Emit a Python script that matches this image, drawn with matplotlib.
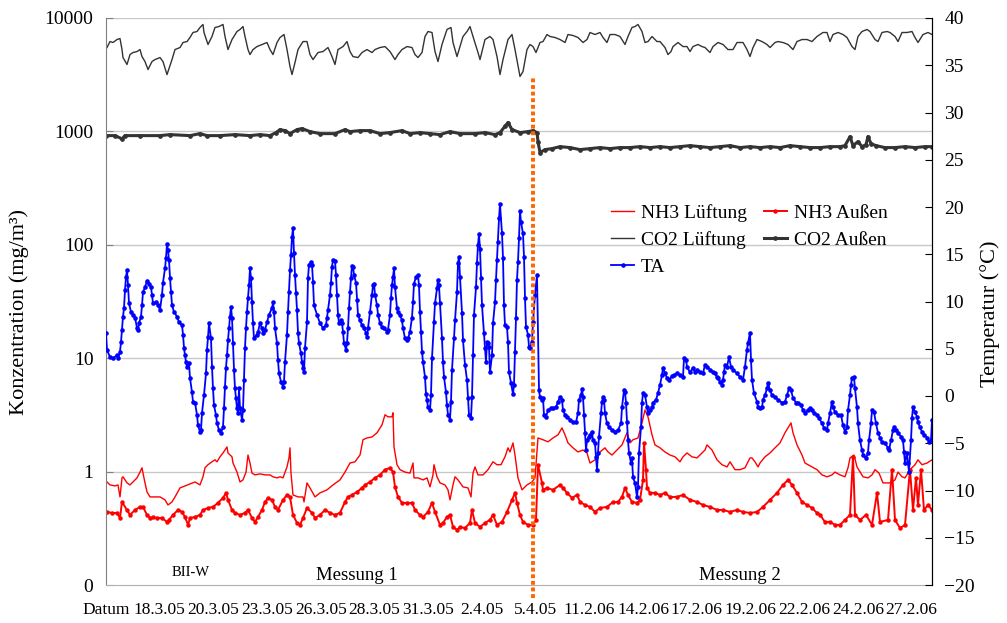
import matplotlib.pyplot as plt
import numpy as np
from matplotlib.ticker import FixedLocator, NullLocator, MultipleLocator

plt.rcParams['font.family'] = ['Liberation Serif', 'DejaVu Serif']

# category axis: one label every ~54 measuring points
x_labels = ["Datum", "18.3.05", "20.3.05", "23.3.05", "26.3.05", "28.3.05", "31.3.05", "2.4.05",
            "5.4.05", "11.2.06", "14.2.06", "17.2.06", "19.2.06", "22.2.06", "24.2.06", "27.2.06"]
n_points = 826
split_idx = 427

# TA (air temperature, degC) -- measuring point index, value
ta_idx = [0, 1, 4, 7, 11, 12, 14, 15, 16, 17, 18, 19, 20, 21, 22, 23, 25, 27, 29, 31, 32, 33, 35, 36, 37,
          39, 41, 43, 45, 46, 47, 50, 52, 54, 56, 57, 59, 60, 61, 62, 63, 64, 65, 66, 68, 71, 73, 76, 77,
          78, 79, 80, 81, 83, 84, 86, 87, 89, 91, 92, 94, 95, 96, 98, 100, 101, 102, 103, 105, 106, 107,
          108, 110, 111, 113, 115, 117, 118, 119, 120, 121, 122, 123, 124, 125, 126, 127, 128, 129, 130,
          131, 132, 133, 134, 136, 137, 138, 139, 140, 141, 142, 143, 144, 145, 146, 147, 148, 151, 152,
          154, 156, 157, 159, 161, 163, 166, 167, 168, 169, 171, 172, 173, 175, 177, 178, 179, 181, 182,
          183, 184, 185, 186, 187, 188, 189, 190, 191, 192, 193, 195, 196, 197, 198, 199, 201, 202, 203,
          205, 206, 207, 208, 211, 214, 217, 220, 221, 222, 224, 225, 226, 227, 229, 230, 231, 232, 233,
          235, 236, 237, 238, 240, 241, 242, 243, 244, 245, 246, 247, 248, 250, 251, 252, 254, 256, 258,
          260, 261, 262, 264, 266, 267, 268, 269, 271, 272, 274, 276, 278, 281, 282, 284, 285, 286, 287,
          288, 289, 291, 292, 294, 296, 297, 299, 301, 302, 304, 306, 307, 308, 310, 312, 313, 314, 315,
          316, 317, 319, 320, 321, 322, 324, 325, 326, 328, 329, 331, 332, 333, 334, 336, 337, 338, 340,
          341, 342, 344, 345, 346, 348, 349, 351, 352, 353, 354, 356, 357, 359, 361, 362, 363, 365, 366,
          367, 368, 370, 371, 372, 373, 374, 375, 376, 378, 379, 380, 381, 382, 383, 384, 386, 387, 389,
          390, 391, 392, 393, 394, 396, 397, 398, 399, 401, 402, 403, 405, 407, 408, 409, 410, 411, 412,
          413, 414, 415, 417, 418, 419, 420, 422, 423, 424, 426, 427, 429, 431,
          433, 434, 436, 437, 438, 440, 442, 445, 447, 450, 452, 454, 456, 457, 459, 461, 464, 467, 470,
          472, 473, 475, 476, 477, 478, 479, 480, 481, 483, 484, 486, 487, 489, 490, 491, 492, 493, 495,
          496, 497, 498, 499, 501, 503, 506, 509, 512, 515, 516, 518, 519, 520, 521, 522, 523, 525, 526,
          527, 529, 531, 532, 533, 535, 536, 537, 539, 541, 542, 544, 546, 547, 550, 552, 554, 556, 557,
          559, 561, 563, 566, 568, 571, 574, 577, 578, 580, 581, 584, 587, 589, 591, 594, 597, 599, 601,
          604, 607, 609, 611, 612, 614, 616, 617, 618, 619, 621, 623, 625, 627, 631, 634, 637, 639, 641,
          642, 644, 645, 646, 648, 651, 652, 654, 656, 657, 659, 661, 662, 664, 666, 669, 672, 676, 679,
          681, 683, 685, 687, 690, 692, 695, 697, 699, 702, 704, 706, 708, 711, 713, 716, 718, 721, 722,
          724, 726, 727, 729, 732, 735, 737, 739, 741, 742, 744, 745, 746, 748, 749, 751, 752, 754, 756,
          757, 760, 762, 763, 765, 766, 768, 770, 772, 774, 776, 779, 782, 783, 785, 787, 788, 790, 792,
          795, 797, 798, 799, 801, 802, 803, 805, 806, 807, 809, 811, 812, 814, 816, 818, 821, 823, 825, 826]
ta_val = [6.7, 4.9, 4.1, 4.0, 4.3, 4.0, 4.7, 5.7, 7.0, 8.4, 9.3, 11.2, 12.6, 13.3, 11.7, 9.8, 8.9, 8.6, 8.3,
          7.2, 7.0, 7.7, 8.4, 9.6, 11.0, 11.5, 12.2, 11.9, 11.5, 10.7, 9.8, 9.9, 9.6, 9.1, 10.7, 12.0, 13.5,
          14.6, 16.1, 15.4, 14.4, 12.5, 11.0, 9.6, 8.9, 8.4, 7.8, 7.5, 6.5, 5.1, 4.3, 3.6, 3.1, 3.5, 1.9,
          0.4, -0.6, -0.7, -2.0, -3.1, -3.8, -3.6, -1.8, 0.1, 2.4, 4.9, 6.2, 7.7, 6.1, 3.1, 0.8, -1.0, -2.0,
          -2.9, -3.6, -3.9, -3.3, -1.3, 1.0, 3.0, 4.3, 5.9, 7.2, 8.4, 9.4, 8.3, 5.6, 2.8, 0.8, -0.2, -1.3,
          -1.8, 0.8, -1.3, -2.5, -1.5, 1.7, 5.1, 7.2, 8.9, 10.4, 11.7, 13.5, 12.5, 9.9, 7.7, 6.1, 6.5, 6.8,
          7.7, 7.2, 6.7, 7.0, 7.8, 8.6, 9.3, 9.9, 8.9, 7.2, 5.6, 3.8, 2.4, 1.5, 1.0, 1.5, 3.6, 6.5, 8.9,
          11.0, 13.3, 14.9, 16.8, 17.8, 15.1, 12.8, 10.9, 9.1, 6.7, 5.6, 4.5, 3.6, 3.0, 2.5, 5.1, 7.8,
          12.5, 13.9, 14.2, 13.9, 12.1, 9.6, 8.6, 7.7, 7.2, 7.5, 8.3, 9.1, 10.7, 12.0, 13.7, 14.4, 14.3,
          12.8, 10.7, 8.6, 7.7, 8.0, 7.7, 6.8, 5.6, 4.9, 5.6, 7.2, 9.3, 11.0, 12.5, 13.8, 13.7, 12.8, 12.0,
          10.2, 8.6, 8.0, 7.5, 7.2, 6.7, 6.2, 7.2, 8.9, 10.7, 11.7, 11.9, 10.7, 9.6, 8.6, 7.7, 7.3, 7.2,
          6.8, 7.0, 8.6, 10.4, 11.7, 12.6, 13.5, 11.5, 9.3, 8.9, 8.6, 8.0, 7.2, 6.1, 5.9, 6.1, 6.8, 8.3,
          9.9, 11.9, 12.6, 12.8, 11.7, 8.9, 6.8, 4.7, 3.6, 2.0, 0.2, -0.4, -1.2, -1.5, 0.1, 4.0, 7.8, 9.8,
          11.4, 12.3, 11.7, 9.8, 6.1, 3.6, 2.0, 0.4, -1.0, -2.0, -2.5, -0.6, 2.8, 6.1, 8.0, 11.0, 14.1,
          14.7, 12.6, 8.8, 5.9, 3.3, 1.7, -0.2, -2.0, -2.3, -0.1, 4.3, 8.6, 11.5, 14.1, 16.0, 17.1, 15.6,
          12.5, 9.6, 6.7, 5.1, 3.6, 5.7, 5.6, 5.2, 2.5, 4.3, 7.7, 9.9, 12.3, 14.4, 16.3, 18.8, 20.3, 17.2,
          14.6, 9.6, 7.5, 7.3, 5.7, 2.5, 1.4, 0.2, 1.2, 4.7, 8.3, 12.3, 14.2, 16.7, 19.6, 18.4, 17.2, 14.7,
          10.4, 7.3, 6.5, 5.2, 5.1, 5.7, 7.8, 10.7, 12.8,
          0.6, -0.1, -0.4, -0.2, -2.0, -2.2, -1.5, -1.3, -1.3, -1.2, -0.6, -0.1, -0.4, -1.5, -2.0, -2.2,
          -2.5, -2.8, -2.8, -1.8, -0.4, 0.1, 0.7, -0.1, -2.0, -3.9, -5.7, -4.7, -4.3, -4.1, -3.8, -4.7,
          -5.0, -6.5, -7.8, -6.0, -4.3, -1.8, -0.6, -0.1, -0.4, -1.8, -2.9, -3.3, -3.6, -3.8, -3.6, -2.9,
          -1.2, 0.6, 0.4, -0.7, -2.8, -4.7, -6.0, -7.1, -6.6, -8.6, -9.2, -10.7, -9.6, -6.0, -3.3, -0.7,
          0.3, 0.1, -1.2, -1.8, -1.5, -1.2, -0.7, -0.4, 0.3, 1.2, 2.2, 3.0, 2.4, 1.9, 1.7, 2.1, 2.2, 2.4,
          2.2, 2.0, 4.0, 3.8, 3.1, 2.5, 3.0, 2.5, 2.8, 2.5, 2.4, 3.3, 3.1, 2.8, 2.5, 2.4, 2.0, 1.9, 1.5,
          1.2, 1.7, 2.5, 3.3, 3.1, 4.1, 3.1, 2.8, 2.4, 2.0, 1.7, 3.1, 4.9, 5.6, 6.7, 3.8, 1.7, 0.3, -0.6,
          -1.2, -1.3, -1.2, -0.4, 0.1, 0.8, 1.4, 0.6, 0.1, -0.1, -0.4, -0.7, -0.6, 0.1, 0.8, 0.6, -0.2,
          -0.7, -0.7, -1.0, -1.5, -1.8, -1.5, -1.3, -1.5, -1.8, -2.0, -2.3, -2.9, -3.4, -3.6, -2.9, -1.8,
          -0.6, -1.2, -1.7, -2.0, -2.0, -3.1, -3.8, -3.3, -1.5, 0.1, 1.2, 1.9, 2.0, 0.8, -1.2, -2.9, -4.7,
          -5.7, -6.2, -6.6, -6.0, -4.7, -2.9, -1.5, -1.7, -2.9, -3.9, -4.4, -4.9, -5.0, -5.5, -5.7, -4.7,
          -3.6, -3.3, -3.6, -3.9, -4.3, -4.7, -5.9, -7.1, -6.0, -7.1, -8.0, -4.7, -2.3, -1.2, -1.7, -2.2,
          -2.8, -3.3, -3.8, -4.1, -4.4, -4.9, -4.7, -2.5]

# CO2 Lüftung (mg/m3)
co2_l_idx = [1, 4, 7, 11, 14, 16, 17, 21, 24, 27, 31, 34, 36, 39, 42, 46, 49, 54, 57, 61, 62, 66, 69, 74,
             77, 81, 84, 87, 91, 94, 97, 98, 102, 106, 109, 113, 117, 119, 122, 126, 131, 134, 137, 139,
             142, 144, 147, 151, 156, 161, 164, 167, 171, 174, 178, 181, 184, 186, 189, 192, 197, 201,
             204, 207, 212, 217, 222, 226, 229, 232, 237, 241, 244, 247, 252, 256, 261, 266, 269, 274,
             279, 284, 289, 292, 296, 301, 306, 309, 312, 316, 319, 322, 326, 329, 332, 336, 341, 345,
             347, 351, 354, 357, 361, 364, 367, 372, 374, 379, 384, 387, 391, 394, 397, 402, 406, 409,
             414, 417, 421, 424, 427, 430,
             434, 437, 441, 444, 449, 454, 459, 462, 467, 472, 477, 481, 484, 489, 494, 497, 501, 504,
             509, 514, 519, 522, 526, 529, 532, 536, 539, 542, 546, 551, 554, 559, 562, 565, 567, 572,
             577, 581, 584, 587, 592, 596, 599, 604, 607, 612, 617, 622, 627, 631, 634, 637, 641, 644,
             647, 651, 656, 661, 664, 669, 672, 677, 682, 687, 691, 696, 701, 706, 711, 714, 717, 721,
             724, 727, 732, 737, 741, 746, 749, 752, 756, 761, 764, 769, 772, 776, 781, 784, 789, 792,
             796, 801, 806, 809, 812, 817, 822, 826]
co2_l_val = [5490, 6200, 6080, 6460, 6590, 5270, 4480, 3890, 4760, 4960, 5060, 5270, 4570, 4130, 3510, 4130,
             4300, 4480, 4130, 3170, 3370, 4300, 5270, 5490, 6080, 6200, 6730, 7450, 7600, 8250, 8770,
             7450, 5840, 6870, 8250, 8410, 8770, 6870, 5270, 6460, 7600, 7920, 8410, 6870, 5270, 4760,
             5270, 5600, 5840, 6080, 5270, 4760, 6080, 6730, 7150, 5270, 3730, 3170, 4050, 5270, 6200,
             6200, 4760, 4300, 4960, 5060, 5490, 4570, 3890, 5270, 5600, 6200, 5060, 4570, 4480, 4960,
             5270, 4960, 5270, 5490, 5600, 5060, 4300, 4760, 5270, 5600, 5490, 4760, 4480, 4960, 6870,
             7600, 7450, 5060, 4130, 5840, 7920, 8250, 6080, 4570, 5600, 6870, 7600, 8410, 6870, 4960,
             4300, 6460, 6870, 6460, 4570, 3170, 4300, 6460, 7150, 5270, 3050, 3370, 5270, 5840, 5600, 4960,
             6080, 6200, 7150, 6870, 6730, 6460, 6080, 7150, 7010, 6730, 6080, 6460, 7450, 7150, 7450, 6730,
             6080, 7150, 7150, 6870, 5840, 6870, 8250, 8410, 8770, 7600, 6080, 6200, 6870, 6200, 6200, 5490,
             4760, 5060, 5600, 6080, 5600, 5600, 5060, 5600, 5840, 5600, 5490, 4960, 5600, 6080, 5840, 5270,
             5270, 6080, 6080, 6080, 5270, 4570, 5490, 6460, 6200, 5840, 5490, 6080, 6200, 6080, 5840, 5270,
             6200, 6460, 6460, 6200, 6870, 7150, 7450, 7450, 6200, 7150, 7450, 7150, 6730, 5600, 5270, 6870,
             7600, 7920, 7600, 6460, 6200, 7450, 7600, 7450, 6870, 6200, 7450, 7450, 7600, 6730, 6080, 7150,
             7450, 7150]

# CO2 Außen (mg/m3)
co2_a_idx = [0, 9, 16, 19, 34, 54, 64, 84, 94, 101, 114, 129, 144, 154, 164, 170, 174, 179, 184, 191, 196,
             204, 214, 229, 239, 244, 254, 264, 274, 284, 296, 304, 314, 324, 334, 344, 354, 369, 379, 389,
             394, 399, 402, 406, 414, 422, 427, 431,
             432, 434, 439, 446, 454, 464, 474, 484, 494, 504, 514, 524, 534, 544, 554, 564, 574, 584, 594,
             604, 614, 624, 634, 644, 654, 664, 674, 684, 694, 704, 714, 724, 734, 739, 744, 747, 752, 756,
             760, 762, 765, 770, 779, 789, 799, 809, 819, 826]
co2_a_val = [918, 918, 860, 918, 918, 918, 937, 918, 956, 918, 918, 937, 918, 937, 918, 976, 1037, 1016,
             956, 1037, 1060, 996, 956, 956, 1037, 996, 1016, 1016, 956, 976, 1016, 956, 976, 956, 937, 996,
             956, 956, 976, 937, 976, 1110, 1196, 1037, 976, 996, 1016, 976,
             813, 650, 691, 705, 734, 720, 691, 705, 720, 705, 720, 720, 734, 720, 734, 720, 734, 749, 734,
             720, 734, 749, 720, 734, 720, 734, 720, 749, 734, 720, 720, 734, 734, 749, 900, 749, 813, 734,
             765, 900, 780, 749, 720, 720, 734, 720, 734, 734]

# NH3 Lüftung (mg/m3)
nh3_l_idx = [1, 4, 9, 12, 14, 16, 17, 21, 24, 27, 31, 34, 36, 37, 39, 41, 44, 49, 54, 59, 62, 66, 69, 74,
             79, 84, 89, 94, 97, 99, 102, 106, 109, 111, 114, 117, 121, 122, 126, 127, 131, 134, 137, 140,
             142, 144, 146, 149, 154, 159, 164, 167, 171, 174, 177, 181, 183, 184, 185, 187, 192, 197, 198,
             201, 204, 209, 214, 221, 227, 234, 239, 244, 249, 254, 257, 261, 266, 271, 276, 279, 282, 286,
             287, 288, 291, 294, 299, 304, 307, 308, 312, 317, 321, 324, 327, 328, 331, 334, 339, 342, 344,
             347, 349, 352, 357, 362, 365, 367, 369, 372, 377, 382, 387, 391, 395, 399, 402, 404, 407, 409,
             412, 416, 421, 426, 429,
             432, 437, 442, 447, 452, 456, 459, 462, 467, 472, 477, 481, 484, 489, 494, 499, 502, 506, 511,
             516, 521, 524, 527, 532, 536, 539, 542, 546, 549, 554, 559, 564, 569, 574, 577, 581, 586, 591,
             596, 599, 601, 606, 611, 616, 621, 624, 629, 634, 639, 644, 646, 649, 652, 654, 659, 664, 669,
             674, 679, 682, 685, 687, 691, 696, 699, 706, 711, 716, 721, 726, 729, 734, 739, 742, 744, 748,
             751, 757, 762, 766, 769, 773, 777, 784, 789, 792, 796, 799, 804, 809, 812, 816, 821, 826]
nh3_l_val = [0.81, 0.763, 0.748, 0.763, 0.598, 0.88, 0.90, 0.795, 0.763, 0.81, 0.88, 0.99, 1.08, 0.97,
             0.795, 0.662, 0.598, 0.598, 0.598, 0.563, 0.508, 0.54, 0.598, 0.718, 0.748, 0.78, 0.81, 0.763,
             0.90, 1.08, 1.15, 1.22, 1.27, 1.22, 1.35, 1.46, 1.65, 1.46, 1.35, 1.19, 0.99, 0.81, 0.845, 0.99,
             1.40, 1.19, 0.97, 0.935, 0.955, 0.935, 0.935, 0.90, 0.88, 0.90, 0.88, 1.10, 1.32, 1.62, 0.97,
             0.623, 0.598, 0.598, 0.54, 0.795, 0.718, 0.598, 0.649, 0.69, 0.763, 0.845, 0.99, 1.19, 1.22,
             1.40, 1.91, 1.98, 2.02, 2.20, 2.58, 3.17, 3.04, 3.04, 3.30, 1.65, 1.15, 1.04, 0.99, 0.97, 1.19,
             0.88, 0.88, 0.845, 0.88, 0.733, 0.935, 1.15, 0.90, 0.795, 0.763, 0.69, 0.563, 0.763, 0.90,
             0.845, 0.733, 0.718, 0.598, 0.97, 1.10, 0.935, 0.935, 1.04, 1.22, 1.15, 1.15, 1.35, 1.62, 1.49,
             1.79, 1.40, 0.88, 0.69, 0.763, 0.81, 0.88,
             1.98, 1.91, 1.83, 1.98, 2.11, 2.43, 2.11, 1.79, 1.62, 1.49, 1.55, 1.46, 1.19, 1.27, 1.49, 1.62,
             1.49, 1.40, 1.55, 1.72, 2.20, 1.79, 1.91, 1.98, 2.69, 3.50, 3.04, 2.11, 1.72, 1.62, 1.49, 1.40,
             1.35, 1.22, 1.35, 1.46, 1.35, 1.32, 1.46, 1.55, 1.72, 1.55, 1.27, 1.15, 1.10, 1.22, 1.04, 1.04,
             1.08, 1.32, 1.32, 1.22, 1.10, 1.19, 1.35, 1.46, 1.62, 1.79, 2.20, 2.43, 2.69, 2.20, 1.72, 1.40,
             1.19, 1.10, 1.04, 0.935, 0.90, 0.935, 0.99, 0.935, 0.90, 1.08, 1.32, 1.40, 1.10, 0.90, 0.88,
             0.935, 1.04, 0.97, 0.795, 0.795, 0.845, 0.99, 0.90, 0.88, 1.04, 1.15, 1.27, 1.15, 1.19, 1.27]

# NH3 Außen (mg/m3)
nh3_a_idx = [1, 6, 11, 14, 16, 21, 24, 29, 34, 37, 41, 44, 47, 51, 56, 61, 63, 67, 72, 76, 79, 82, 84, 89,
             94, 97, 102, 107, 112, 117, 120, 122, 126, 129, 134, 139, 142, 146, 149, 152, 156, 159, 162,
             166, 169, 172, 177, 181, 184, 187, 191, 194, 197, 201, 206, 209, 214, 219, 224, 229, 234, 239,
             242, 246, 251, 256, 259, 264, 269, 274, 279, 284, 287, 289, 292, 296, 301, 306, 309, 314, 317,
             322, 326, 329, 334, 337, 341, 344, 347, 351, 354, 359, 364, 366, 369, 374, 379, 384, 387, 391,
             396, 401, 406, 409, 411, 414, 417, 422, 427, 430,
             432, 436, 437, 441, 447, 454, 457, 461, 466, 471, 474, 479, 484, 489, 494, 501, 507, 512, 516,
             519, 522, 526, 531, 534, 537, 538, 540, 541, 544, 549, 554, 559, 564, 571, 577, 584, 591, 597,
             604, 611, 617, 624, 631, 637, 644, 651, 657, 664, 671, 677, 682, 686, 691, 696, 701, 706, 711,
             714, 719, 724, 729, 734, 739, 744, 747, 749, 754, 760, 766, 771, 774, 782, 786, 789, 794, 799,
             804, 807, 810, 812, 815, 818, 822, 826]
nh3_a_val = [0.441, 0.432, 0.432, 0.39, 0.54, 0.459, 0.415, 0.459, 0.488, 0.488, 0.415, 0.39, 0.398, 0.39,
             0.39, 0.36, 0.375, 0.415, 0.459, 0.441, 0.398, 0.339, 0.39, 0.398, 0.415, 0.459, 0.478, 0.488,
             0.53, 0.586, 0.649, 0.563, 0.459, 0.432, 0.415, 0.432, 0.459, 0.39, 0.36, 0.398, 0.459, 0.54,
             0.586, 0.563, 0.488, 0.459, 0.563, 0.623, 0.598, 0.415, 0.353, 0.339, 0.39, 0.478, 0.432, 0.39,
             0.415, 0.459, 0.432, 0.415, 0.432, 0.54, 0.598, 0.623, 0.662, 0.718, 0.763, 0.81, 0.88, 0.935,
             1.04, 1.08, 0.99, 0.733, 0.598, 0.53, 0.53, 0.53, 0.459, 0.415, 0.398, 0.441, 0.53, 0.441,
             0.339, 0.353, 0.398, 0.415, 0.325, 0.306, 0.325, 0.318, 0.353, 0.459, 0.353, 0.325, 0.353,
             0.375, 0.415, 0.339, 0.36, 0.441, 0.563, 0.649, 0.53, 0.415, 0.36, 0.339, 0.339, 0.375,
             1.15, 0.795, 0.69, 0.718, 0.69, 0.763, 0.718, 0.649, 0.586, 0.623, 0.54, 0.508, 0.488, 0.441,
             0.478, 0.488, 0.54, 0.54, 0.598, 0.718, 0.623, 0.54, 0.53, 0.563, 0.845, 1.79, 1.04, 0.718,
             0.649, 0.649, 0.623, 0.649, 0.598, 0.598, 0.623, 0.563, 0.54, 0.508, 0.488, 0.459, 0.459, 0.441,
             0.459, 0.441, 0.432, 0.441, 0.488, 0.563, 0.649, 0.763, 0.845, 0.763, 0.649, 0.54, 0.508, 0.478,
             0.432, 0.415, 0.36, 0.36, 0.339, 0.339, 0.375, 0.415, 1.35, 0.415, 0.375, 0.415, 0.339, 0.649,
             0.36, 0.375, 1.04, 0.375, 0.318, 0.339, 1.04, 0.459, 0.88, 0.508, 1.04, 0.459, 0.508, 0.459]

red = '#FF0000'
blue = '#0000FF'
dark = '#333333'

fig = plt.figure(figsize=(10.07, 6.23), dpi=100)
ax = fig.add_axes([106 / 1007, 1 - 585 / 623, 826 / 1007, 567 / 623])
ax2 = ax.twinx()

ln_nh3_l, = ax.plot(nh3_l_idx, nh3_l_val, color=red, lw=1.0, label='NH3 Lüftung')
ln_nh3_a, = ax.plot(nh3_a_idx, nh3_a_val, color=red, lw=1.4, marker='o', ms=3.2, mew=0,
                    label='NH3 Außen')
ln_co2_l, = ax.plot(co2_l_idx, co2_l_val, color=dark, lw=1.0, label='CO2 Lüftung')
ln_co2_a, = ax.plot(co2_a_idx, co2_a_val, color=dark, lw=2.2, marker='o', ms=3.4, mew=0,
                    label='CO2 Außen')
ln_ta, = ax2.plot(ta_idx, ta_val, color=blue, lw=1.3, marker='o', ms=3.3, mew=0, label='TA')

ax.set_yscale('log')
ax.set_ylim(0.1, 10000)
ax.set_xlim(0, n_points)
ax.yaxis.set_major_locator(FixedLocator([0.1, 1, 10, 100, 1000, 10000]))
ax.set_yticklabels(['0', '1', '10', '100', '1000', '10000'])
ax.yaxis.set_minor_locator(NullLocator())
for v in [1, 10, 100, 1000, 10000]:
    ax.axhline(v, color='#C8C8C8', lw=1.0, zorder=0)

ax.set_xticks(np.arange(len(x_labels)) * 53.7)
ax.set_xticklabels(x_labels)
ax.tick_params(axis='x', length=0, pad=12, labelsize=12.5)
ax.tick_params(axis='y', direction='in', length=5, color='#808080', pad=9, labelsize=14)

ax2.set_ylim(-20, 40)
ax2.yaxis.set_major_locator(MultipleLocator(5))
ax2.tick_params(axis='y', direction='in', length=5, color='black', pad=9, labelsize=14)

for a in (ax, ax2):
    a.spines['top'].set_visible(False)
ax.spines['left'].set_color('#808080')
ax.spines['bottom'].set_color('#B0B0B0')
ax2.spines['left'].set_visible(False)
ax2.spines['bottom'].set_visible(False)
ax2.spines['right'].set_color('black')

ax.set_ylabel('Konzentration (mg/m³)', fontsize=16)
ax.yaxis.set_label_coords(-0.0935, 0.481)
ax2.set_ylabel('Temperatur (°C)', fontsize=16)
ax2.yaxis.set_label_coords(1.058, 0.478)

# separation between the two measuring periods
ax2.axvline(split_idx, ymin=-0.023, ymax=0.894, color='#FF6600', lw=2.8,
            ls=(0, (1, 0.7)), clip_on=False, zorder=10)

ax.text(0.103, 0.022, 'BII-W', transform=ax.transAxes, ha='center', va='center', fontsize=10.5)
ax.text(0.304, 0.016, 'Messung 1', transform=ax.transAxes, ha='center', va='center', fontsize=13.5)
ax.text(0.768, 0.016, 'Messung 2', transform=ax.transAxes, ha='center', va='center', fontsize=13.5)

ax2.legend([ln_nh3_l, ln_co2_l, ln_ta, ln_nh3_a, ln_co2_a],
           ['NH3 Lüftung', 'CO2 Lüftung', 'TA', 'NH3 Außen', 'CO2 Außen'],
           ncol=2, frameon=False, fontsize=14, handlelength=1.2, handletextpad=0.35,
           columnspacing=0.85, labelspacing=0.48, loc='upper left',
           bbox_to_anchor=(611 / 1007, 1 - 204 / 623), bbox_transform=fig.transFigure,
           borderaxespad=0, borderpad=0)

fig.savefig('out.png', dpi=100)
